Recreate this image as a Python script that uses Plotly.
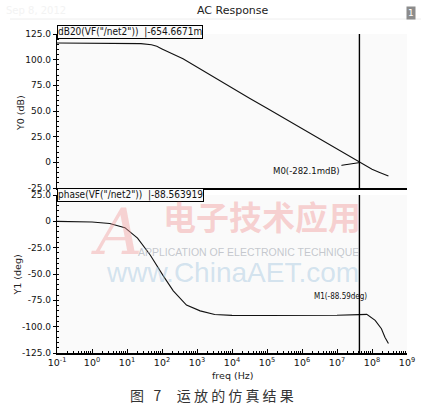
import math
import plotly.graph_objects as go

# ---- data ----
mag_freq = [0.1, 1, 10, 25, 50, 71, 100, 158, 251, 398, 1000, 3162, 1e4, 31623, 1e5,
            316228, 1e6, 3.162e6, 1e7, 3.162e7, 4.37e7, 1e8, 1.585e8, 2.95e8]
mag_db = [116.2, 116.2, 116.1, 115.6, 114.5, 113.0, 110.5, 107.0, 104.0, 100.8, 92.6,
          82.5, 72.5, 62.5, 52.6, 42.7, 32.8, 22.9, 12.9, 2.6, -0.3, -6.8, -9.6, -13.4]

ph_freq = [0.1, 1, 3.2, 8.7, 20, 46, 110, 210, 500, 1230, 3200, 1e4, 1e5, 1e6, 1e7,
           4.37e7, 7.1e7, 1.23e8, 1.86e8, 2.34e8, 2.95e8]
ph_deg = [0.0, -0.6, -2.0, -6.0, -16.0, -32.0, -52.0, -66.0, -79.5, -85.0, -88.5, -89.3,
          -89.4, -89.4, -89.2, -88.6, -88.3, -94.0, -102.0, -110.0, -116.0]

cursor_freq = 4.37e7
m0_value = -0.2821
m1_value = -88.59

mag_ticks = [-25, 0, 25, 50, 75, 100, 125]
mag_ticktext = ["-25.0", "0", "25.0", "50.0", "75.0", "100.0", "125.0"]
ph_ticks = [-125, -100, -75, -50, -25, 0, 25]
ph_ticktext = ["-125.0", "-100.0", "-75.0", "-50.0", "-25.0", "0", "25.0"]
x_exps = list(range(-1, 10))
x_tickvals = [10.0 ** e for e in x_exps]
x_ticktext = ["10<sup>%d</sup>" % e for e in x_exps]
x_minor = [k * 10.0 ** e for e in range(-1, 9) for k in range(2, 10)]

# ---- layout helpers (pixel -> paper) ----
L, R, T, B, W, H = 57, 24, 34, 56, 431, 409
PW, PH = W - L - R, H - T - B
def px(x):
    return (x - L) / PW
def py(y):
    return (H - B - y) / PH

FONT = "DejaVu Sans"
NARROW = "DejaVu Sans Condensed, Liberation Sans Narrow, DejaVu Sans"
NB = "\u00a0"

fig = go.Figure()
fig.add_trace(go.Scatter(x=mag_freq, y=mag_db, mode="lines", xaxis="x", yaxis="y",
                         line=dict(color="#111111", width=1.1), showlegend=False))
fig.add_trace(go.Scatter(x=[cursor_freq, cursor_freq], y=[-25, 125], mode="lines",
                         xaxis="x", yaxis="y", line=dict(color="black", width=1.4),
                         showlegend=False))
fig.add_trace(go.Scatter(x=ph_freq, y=ph_deg, mode="lines", xaxis="x2", yaxis="y2",
                         line=dict(color="#111111", width=1.1), showlegend=False))
fig.add_trace(go.Scatter(x=[cursor_freq, cursor_freq], y=[-125, 25], mode="lines",
                         xaxis="x2", yaxis="y2", line=dict(color="black", width=1.4),
                         showlegend=False))

yaxis_common = dict(showline=True, linecolor="black", linewidth=1.3, ticks="outside",
                    ticklen=3, tickcolor="black", showgrid=False, zeroline=False,
                    automargin=False,
                    tickfont=dict(family=FONT, size=9, color="#111111"),
                    minor=dict(ticks="inside", ticklen=2, dtick=5, tickcolor="black"))

fig.update_layout(
    width=W, height=H, autosize=False,
    margin=dict(l=L, r=R, t=T, b=B, pad=0),
    paper_bgcolor="white", plot_bgcolor="#fafafa",
    xaxis=dict(type="log", range=[-1, 9], domain=[0, 1], anchor="y", automargin=False,
               showticklabels=False, ticks="", showline=True, linecolor="black",
               linewidth=1.5, showgrid=False, zeroline=False),
    yaxis=dict(domain=[py(188), 1.0], range=[-25, 125], tickvals=mag_ticks,
               ticktext=mag_ticktext, **yaxis_common),
    xaxis2=dict(type="log", range=[-1, 9], domain=[0, 1], anchor="y2", automargin=False,
                tickmode="array", tickvals=x_tickvals, ticktext=x_ticktext,
                ticks="inside", ticklen=4, tickcolor="black",
                minor=dict(ticks="inside", ticklen=2, tickmode="array",
                           tickvals=x_minor, tickcolor="black"),
                showline=True, linecolor="black", linewidth=1.5, showgrid=False,
                zeroline=False, tickfont=dict(family=FONT, size=9.5, color="#111111")),
    yaxis2=dict(domain=[0, py(195)], range=[-125, 25], tickvals=ph_ticks,
                ticktext=ph_ticktext, **yaxis_common),
)


def label(text, x, y, size, family=FONT, color="#222222", **kw):
    d = dict(text=text, x=px(x), y=py(y), xref="paper", yref="paper",
             xanchor="center", yanchor="middle", showarrow=False,
             font=dict(family=family, size=size, color=color))
    d.update(kw)
    return d


ann = []
# title and header
ann.append(label("AC Response", 233, 10, 11))
ann.append(label("Sep 8, 2012", 36, 10, 10, color="#f3f3f3"))
ann.append(label("1", 410.5, 13.5, 9, color="white", bgcolor="#8c8c8c", borderpad=1))
# trace label boxes
ann.append(label("dB20(VF(\"/net2\"))  |-654.6671m", 57, 32.5, 10, family=NARROW,
                 color="#111111", xanchor="left", bgcolor="#fafafa",
                 bordercolor="black", borderwidth=1, borderpad=0))
ann.append(label("phase(VF(\"/net2\"))  |-88.563919", 57, 195, 10, family=NARROW,
                 color="#111111", xanchor="left", bgcolor="#fafafa",
                 bordercolor="black", borderwidth=1, borderpad=0))
# markers
ann.append(dict(text="M0(-282.1mdB)", x=math.log10(cursor_freq), y=m0_value,
                xref="x", yref="y", showarrow=True, arrowhead=0, arrowwidth=1,
                arrowcolor="black", ax=-53, ay=8,
                font=dict(family=NARROW, size=9.5, color="#111111")))
ann.append(dict(text="M1(-88.59deg)", x=math.log10(cursor_freq), y=m1_value,
                xref="x2", yref="y2", showarrow=False, xanchor="center",
                yanchor="bottom", yshift=12, xshift=-19,
                font=dict(family=NARROW, size=8, color="#111111")))
# axis titles
ann.append(label("Y0 (dB)", 21, 113, 9.5, textangle=-90))
ann.append(label("Y1 (deg)", 16.5, 275, 9.5, textangle=-90))
ann.append(label("freq (Hz)", 232, 375, 9.5))
caption = "图" + NB * 3 + "7" + NB * 5 + NB.join("运放的仿真结果")
ann.append(label(caption, 212, 395, 14, family="Noto Sans CJK SC", color="#333333"))
# watermark
ann.append(label("<i>A</i>", 116, 232, 64, family="DejaVu Serif",
                 color="rgba(240,150,150,0.4)"))
ann.append(label("<b>电子技术应用</b>", 262, 216, 33, family="Noto Sans CJK SC",
                 color="rgba(240,140,140,0.38)"))
ann.append(label("APPLICATION OF ELECTRONIC TECHNIQUE", 248, 252, 10.5,
                 family="Liberation Sans", color="rgba(160,165,175,0.6)"))
ann.append(label("www.ChinaAET.com", 232, 272, 28, family="Liberation Sans",
                 color="rgba(150,190,220,0.4)"))
fig.update_layout(annotations=ann)

fig.add_shape(type="line", xref="paper", yref="paper", x0=px(10), x1=px(421),
              y0=py(19), y1=py(19), line=dict(color="#eeeeee", width=1))

fig.write_html("out.html", config={"displayModeBar": False},
               post_script="document.body.style.margin='0';document.body.style.padding='0';")
